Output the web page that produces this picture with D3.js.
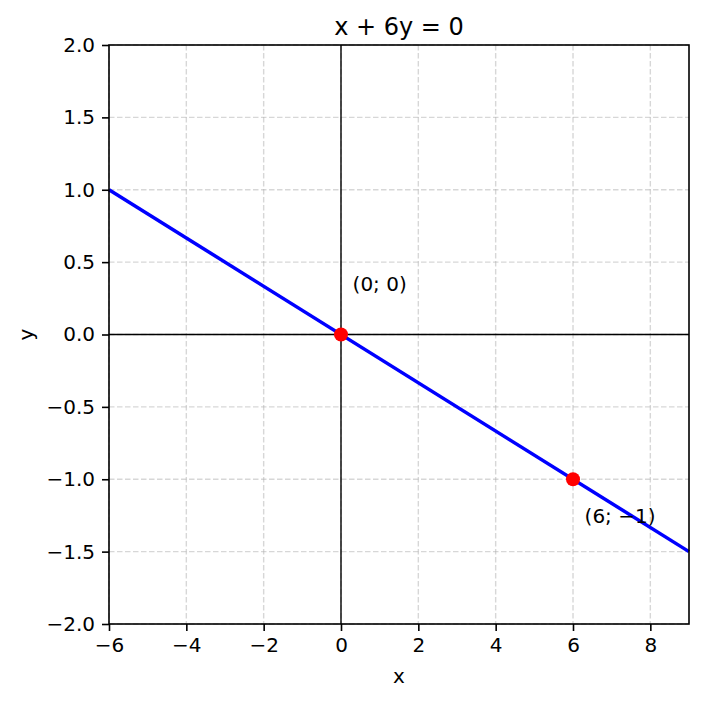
<!DOCTYPE html>
<html>
<head>
<meta charset="utf-8">
<script src="https://cdnjs.cloudflare.com/ajax/libs/d3/7.8.5/d3.min.js"></script>
<style>
  body { margin: 0; background: #fff; }
  text { font-family: "DejaVu Sans", sans-serif; fill: #000; }
</style>
</head>
<body>
<div id="chart"></div>
<script>
// Line x + 6y = 0, end points
var lineX = [-6, 9];
var lineY = [1, -1.5];

// Marked points and their labels
var pointX = [0, 6];
var pointY = [0, -1];
var pointLabels = ["(0; 0)", "(6; \u22121)"];

var xTicks = [-6, -4, -2, 0, 2, 4, 6, 8];
var yTicks = [-2.0, -1.5, -1.0, -0.5, 0.0, 0.5, 1.0, 1.5, 2.0];

var margin = { top: 45, left: 109, right: 15, bottom: 77 };
var W = 704, H = 701;
var width = W - margin.left - margin.right;
var height = H - margin.top - margin.bottom;

var svg = d3.select("#chart").append("svg")
    .attr("width", W)
    .attr("height", H);

var g = svg.append("g")
    .attr("transform", "translate(" + margin.left + "," + margin.top + ")");

var x = d3.scaleLinear().domain([-6, 9]).range([0, width]);
var y = d3.scaleLinear().domain([-2, 2]).range([height, 0]);

var minus = function(v, f) { return d3.format(f)(v).replace("-", "\u2212"); };

// Grid
g.append("g").selectAll("line")
    .data(xTicks)
  .enter().append("line")
    .attr("x1", function(d) { return x(d); })
    .attr("x2", function(d) { return x(d); })
    .attr("y1", 0).attr("y2", height)
    .style("stroke", "#b0b0b0")
    .style("stroke-opacity", 0.5)
    .style("stroke-width", 1.4)
    .style("stroke-dasharray", "5.5,2.5");

g.append("g").selectAll("line")
    .data(yTicks)
  .enter().append("line")
    .attr("y1", function(d) { return y(d); })
    .attr("y2", function(d) { return y(d); })
    .attr("x1", 0).attr("x2", width)
    .style("stroke", "#b0b0b0")
    .style("stroke-opacity", 0.5)
    .style("stroke-width", 1.4)
    .style("stroke-dasharray", "5.5,2.5");

// Axes through origin
g.append("line")
    .attr("x1", 0).attr("x2", width)
    .attr("y1", y(0)).attr("y2", y(0))
    .style("stroke", "#000").style("stroke-width", 1.4);
g.append("line")
    .attr("x1", x(0)).attr("x2", x(0))
    .attr("y1", 0).attr("y2", height)
    .style("stroke", "#000").style("stroke-width", 1.4);

// Line
var lineData = lineX.map(function(d, i) { return [d, lineY[i]]; });
g.append("path")
    .datum(lineData)
    .attr("d", d3.line().x(function(d) { return x(d[0]); }).y(function(d) { return y(d[1]); }))
    .style("fill", "none")
    .style("stroke", "#0000ff")
    .style("stroke-width", 3.5);

// Points
g.selectAll(".pt")
    .data(pointX)
  .enter().append("circle")
    .attr("class", "pt")
    .attr("cx", function(d) { return x(d); })
    .attr("cy", function(d, i) { return y(pointY[i]); })
    .attr("r", 7)
    .style("fill", "#ff0000");

g.selectAll(".lbl")
    .data(pointX)
  .enter().append("text")
    .attr("class", "lbl")
    .attr("x", function(d) { return x(d + 0.3); })
    .attr("y", function(d, i) { return y(pointY[i] + 0.3 * (pointY[i] < 0 ? -1 : 1)); })
    .style("font-size", "20px")
    .text(function(d, i) { return pointLabels[i]; });

// Axes with ticks
var xAxis = g.append("g")
    .attr("transform", "translate(0," + height + ")")
    .call(d3.axisBottom(x).tickValues(xTicks).tickSize(7).tickPadding(7)
      .tickFormat(function(d) { return minus(d, "d"); }));
var yAxis = g.append("g")
    .call(d3.axisLeft(y).tickValues(yTicks).tickSize(7).tickPadding(7)
      .tickFormat(function(d) { return minus(d, ".1f"); }));

[xAxis, yAxis].forEach(function(a) {
  a.select(".domain").remove();
  a.selectAll(".tick line").style("stroke", "#000").style("stroke-width", 1.6);
  a.selectAll(".tick text")
    .style("font-family", "DejaVu Sans, sans-serif")
    .style("font-size", "20px")
    .style("fill", "#000");
});

// Frame
g.append("rect")
    .attr("width", width).attr("height", height)
    .style("fill", "none")
    .style("stroke", "#000")
    .style("stroke-width", 1.6);

// Titles
svg.append("text")
    .attr("x", margin.left + width / 2)
    .attr("y", 35)
    .attr("text-anchor", "middle")
    .style("font-size", "24px")
    .text("x + 6y = 0");

svg.append("text")
    .attr("x", margin.left + width / 2)
    .attr("y", 683)
    .attr("text-anchor", "middle")
    .style("font-size", "20px")
    .text("x");

svg.append("text")
    .attr("transform", "translate(33," + (margin.top + y(0)) + ") rotate(-90)")
    .attr("text-anchor", "middle")
    .style("font-size", "20px")
    .text("y");
</script>
</body>
</html>
